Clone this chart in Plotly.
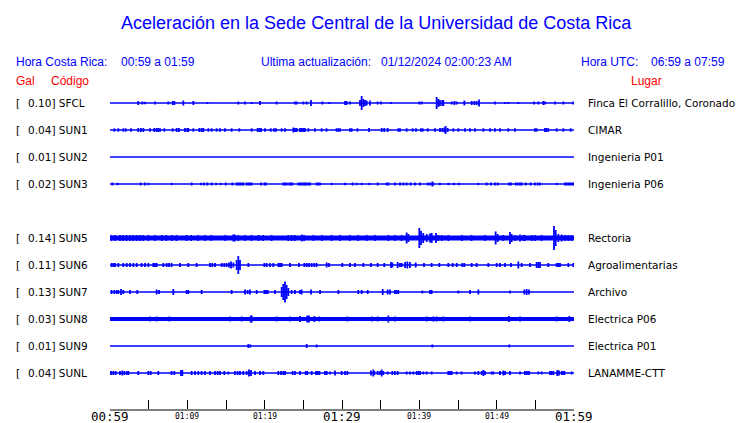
import plotly.graph_objects as go

# ---------------- data ----------------
stations = ["SFCL", "SUN1", "SUN2", "SUN3", "SUN5", "SUN6", "SUN7", "SUN8", "SUN9", "SUNL"]
rows = [0, 1, 2, 3, 5, 6, 7, 8, 9, 10]          # SUN4 slot (row 4) is empty
gal = ["0.10", "0.04", "0.01", "0.02", "0.14", "0.11", "0.13", "0.03", "0.01", "0.04"]
places = ["Finca El Corralillo, Coronado", "CIMAR", "Ingenieria P01", "Ingenieria P06",
          "Rectoria", "Agroalimentarias", "Archivo", "Electrica P06", "Electrica P01", "LANAMME-CTT"]
noise_level = [1.5, 1.5, 1.5, 1.5, 5, 1.5, 1.5, 4, 1.5, 1.5]   # background noise band

tick_minutes = list(range(0, 61, 5))
tick_labels = {0: "00:59", 10: "01:09", 20: "01:19", 30: "01:29", 40: "01:39", 50: "01:49", 60: "01:59"}
major_labels = [0, 30, 60]

# bursts: (minutes after 00:59, relative amplitude)
sfcl = [(3.66, 2), (4.18, 1.5), (4.53, 1.2), (5.82, 1.5), (7.54, 1.5), (8.1, 2), (8.32, 2), (9.48, 2.5),
        (10.78, 2), (12.59, 1), (16.59, 1.5), (17.46, 1.5), (18.32, 1), (19.4, 2), (21.55, 1.5),
        (23.92, 1.5), (24.14, 1.5), (25.0, 1.5), (25.43, 1.5), (25.99, 3), (27.46, 1.5), (28.36, 1),
        (30.39, 2), (30.6, 2), (31.03, 1.5), (32.33, 3), (32.54, 7), (32.76, 4), (32.97, 3), (33.19, 2.5),
        (33.62, 2.5), (34.61, 1.5), (35.04, 1.5), (36.34, 1), (40.0, 1.5), (40.3, 1.5), (42.24, 6),
        (42.46, 4), (42.67, 3), (42.97, 3), (43.1, 3), (44.18, 1.5), (44.53, 2), (44.83, 1.5), (45.82, 2.5),
        (46.77, 2), (47.11, 2), (47.41, 2), (47.72, 3.5), (49.78, 1.5), (51.08, 1), (51.51, 1), (52.8, 1),
        (54.83, 1.5), (55.39, 1.5), (56.03, 2), (56.25, 1.5), (57.54, 1.5), (58.62, 1.5), (59.91, 1.5)]

sun1 = [(0.56, 1.7), (1.08, 1.7), (1.72, 1.7), (2.03, 1.7), (2.72, 1.7), (3.66, 2), (4.0, 2), (4.31, 2),
        (5.17, 1.7), (5.73, 2), (6.03, 2), (6.25, 2), (6.47, 1.7), (7.03, 1.7), (8.1, 1.7), (8.62, 2),
        (8.92, 2), (9.7, 2), (10.0, 2), (10.13, 2), (10.78, 1.7), (11.55, 2), (11.85, 2), (12.07, 2),
        (12.72, 1.7), (13.15, 1.7), (13.79, 1.7), (14.22, 1.7), (14.87, 1.7), (15.73, 1.7), (16.72, 1.7),
        (18.32, 1.7), (19.09, 2), (19.31, 2), (19.53, 2), (20.04, 1.7), (20.78, 1.7), (21.21, 1.7),
        (21.47, 1.7), (22.2, 1.7), (22.63, 1.7), (23.71, 2.5), (23.92, 2), (24.14, 2), (24.57, 2),
        (24.78, 2), (25.0, 2), (25.2, 2), (25.65, 1.7), (26.5, 1.7), (27.37, 1.7), (28.0, 1.7),
        (29.3, 1.7), (29.5, 1.7), (29.74, 1.7), (31.03, 1.7), (31.25, 1.7), (32.0, 1.7), (33.5, 2),
        (35.13, 2), (35.47, 2), (35.9, 2), (37.28, 1.7), (37.5, 1.7), (38.36, 1.7), (39.14, 1.7),
        (39.57, 1.7), (40.2, 1.7), (40.43, 1.7), (41.08, 1.7), (42.03, 1.7), (42.67, 2), (42.97, 2),
        (43.23, 2.5), (43.4, 4), (43.66, 2), (44.4, 1.7), (45.04, 1.7), (45.9, 1.7), (46.55, 1.7),
        (47.2, 1.7), (48.28, 1.7), (49.14, 1.7), (49.78, 1.7), (50.43, 1.7), (51.5, 1.7), (52.37, 1.7),
        (54.96, 1.7), (55.17, 1.7), (56.25, 2), (56.47, 2), (56.68, 1.7), (57.76, 1.7), (58.62, 1.7),
        (59.57, 1.7)]

sun2 = []

sun3 = [(0.3, 1.5), (0.99, 1.2), (3.97, 1.5), (4.53, 1.5), (4.96, 1.2), (7.97, 1.2), (10.56, 1.5),
        (11.77, 1.2), (12.16, 1.5), (12.59, 1.5), (13.15, 1.5), (13.71, 1.2), (14.31, 1.2), (14.96, 1.5),
        (15.82, 1.5), (16.38, 1.5), (16.59, 1.5), (16.81, 1.5), (17.03, 1.5), (17.24, 1.5), (17.67, 1.5),
        (17.89, 1.5), (18.1, 1.5), (18.32, 1.5), (19.53, 1.5), (19.96, 1.5), (20.13, 1.5), (22.41, 1.5),
        (22.63, 1.5), (22.84, 1.5), (23.19, 1.5), (23.41, 1.5), (23.58, 1.5), (24.35, 1.5), (24.57, 1.5),
        (24.78, 1.5), (25.0, 1.5), (25.22, 1.5), (25.43, 1.5), (25.65, 1.5), (25.86, 1.5), (26.72, 1.5),
        (26.94, 1.5), (27.16, 1.5), (28.66, 1.2), (30.39, 1.2), (31.38, 1.5), (31.9, 1.2), (32.54, 1.2),
        (33.53, 1.2), (34.61, 1.5), (35.78, 1.5), (35.99, 1.5), (36.85, 1.5), (37.5, 1.5), (37.93, 1.5),
        (38.36, 1.5), (38.88, 1.5), (39.44, 1.5), (40.09, 1.5), (41.08, 1.5), (41.38, 1.5), (41.68, 2.5),
        (41.81, 1.5), (42.67, 1.2), (43.75, 1.2), (44.48, 1.2), (45.13, 1.2), (47.63, 1.2), (48.71, 1.5),
        (49.27, 1.5), (49.78, 1.5), (50.13, 1.5), (51.59, 1.5), (51.85, 1.5), (52.46, 1.5), (52.72, 1.5),
        (53.02, 1.5), (53.23, 1.5), (53.75, 1.5), (54.4, 1.5), (54.96, 1.5), (55.3, 1.5), (55.6, 1.5),
        (57.76, 1.2), (58.84, 1.5), (59.05, 1.5), (59.27, 1.5), (59.48, 1.5), (59.7, 1.5), (59.91, 1.5)]

sun5 = [(0.2, 3), (0.65, 3), (1.3, 3), (1.7, 3), (2.15, 3), (2.6, 3), (3.0, 3), (3.45, 3), (3.9, 3),
        (4.3, 3), (4.95, 3), (5.8, 3), (6.7, 3), (7.3, 3), (8.0, 3), (8.6, 3), (9.9, 3), (10.5, 3),
        (11.4, 3), (12.3, 3), (13.1, 3), (14.9, 3), (15.95, 3.5), (16.15, 3.5), (16.6, 3), (17.45, 3),
        (18.3, 3), (19.2, 3), (19.8, 3), (20.9, 3), (23.05, 3), (23.5, 3), (23.9, 3), (24.8, 3.5),
        (25.1, 3), (26.3, 3), (27.4, 3), (28.65, 3), (29.75, 3), (31.0, 3), (32.1, 3), (33.2, 3),
        (34.25, 3), (36.0, 3), (36.85, 3), (37.7, 3), (38.36, 5.5), (38.58, 4), (40.0, 10), (40.22, 7),
        (40.5, 5), (40.95, 4), (41.38, 4.5), (41.6, 5), (42.16, 5), (42.46, 3), (42.9, 3), (43.75, 3),
        (45.5, 3), (46.75, 3), (48.5, 3), (49.87, 6.5), (50.13, 4), (50.85, 3), (51.72, 6), (51.94, 4),
        (52.4, 3), (53.02, 3.5), (53.45, 3), (53.66, 3), (54.53, 3), (54.95, 3), (55.8, 3), (57.41, 12),
        (57.63, 8), (57.97, 4), (58.4, 3.5), (58.85, 3), (59.27, 3), (59.7, 3)]

sun6 = [(0.2, 2), (0.43, 2), (0.65, 2), (1.08, 2), (1.72, 2), (2.16, 2), (2.59, 2), (3.02, 2), (3.45, 2),
        (4.09, 2), (4.53, 2), (4.96, 2), (5.6, 2), (5.82, 2), (6.03, 2), (6.9, 2), (7.33, 2), (7.63, 2),
        (7.97, 2), (9.05, 2), (10.13, 2), (11.2, 2), (12.93, 2), (13.23, 2), (13.58, 2), (14.44, 2),
        (14.78, 2), (15.09, 2), (15.39, 2.5), (15.65, 3.5), (15.95, 2.5), (16.38, 5), (16.59, 9),
        (16.81, 5), (17.89, 2), (19.96, 2), (20.26, 2), (20.69, 2), (21.12, 2), (21.77, 2), (21.98, 2),
        (22.2, 2), (23.28, 2), (24.44, 2), (25.13, 2), (25.43, 2), (25.73, 2), (26.08, 2), (26.42, 2),
        (26.72, 2), (28.02, 2.5), (28.32, 2), (30.04, 2), (31.03, 2), (31.68, 2), (32.76, 2), (33.75, 2),
        (34.61, 2), (35.47, 2), (36.34, 3), (36.51, 2.5), (37.2, 3), (37.5, 2), (37.72, 2), (38.15, 3),
        (38.45, 3.5), (38.79, 3), (39.53, 2.5), (40.6, 2), (41.59, 2), (42.59, 2), (43.75, 2), (44.31, 2),
        (44.83, 2), (45.56, 2), (45.82, 2), (46.77, 2), (47.41, 2), (48.92, 2), (50.0, 2), (50.43, 2),
        (51.08, 2), (51.85, 2), (52.8, 3.5), (53.23, 2), (54.31, 2), (55.17, 3), (55.39, 3), (55.6, 3),
        (56.68, 2), (57.76, 2), (57.97, 2), (58.19, 2), (59.27, 2), (59.91, 2)]

sun7 = [(0.2, 2), (0.56, 2), (0.86, 2), (1.08, 2), (1.42, 3), (1.72, 2), (2.59, 2), (3.53, 2), (6.03, 2.5),
        (6.34, 2), (8.19, 3), (9.91, 2), (10.13, 2), (11.85, 2), (15.73, 2), (17.46, 2.5), (17.8, 2),
        (18.1, 2.5), (18.97, 2), (19.96, 2), (20.17, 2), (20.39, 2), (21.34, 2), (22.2, 5), (22.41, 8),
        (22.63, 10.5), (22.84, 7), (23.06, 4), (23.49, 2), (23.92, 2), (24.57, 2), (24.78, 2.5),
        (25.99, 2.5), (27.16, 2), (29.53, 2), (32.11, 2), (32.54, 2), (33.32, 2), (35.26, 3), (35.91, 2.5),
        (36.21, 2.5), (36.85, 2), (37.07, 2), (37.28, 2), (40.39, 1.5), (41.38, 2), (41.59, 2),
        (45.04, 1.5), (46.55, 2), (47.63, 2.5), (51.72, 1.5), (53.58, 2.5), (53.88, 3), (54.18, 2.5)]

sun8 = [(5.17, 2.5), (6.03, 2.5), (7.67, 2.5), (15.52, 2.5), (17.03, 2.5), (18.19, 3.5), (18.32, 3.5),
        (21.55, 2.5), (23.28, 2.5), (24.57, 3), (25.52, 3.5), (25.73, 3.5), (26.42, 3), (27.07, 2.5),
        (30.69, 2.5), (33.84, 2.5), (34.61, 2.5), (35.99, 3.5), (36.85, 2.5), (40.95, 2.5), (41.81, 2.5),
        (42.24, 2.5), (43.1, 2.5), (46.55, 2.5), (51.59, 3), (53.02, 2.5), (57.76, 2.5), (59.4, 3)]

sun9 = [(17.89, 2), (18.15, 1.5), (25.43, 2), (26.72, 1.5), (41.68, 1.5), (51.64, 1.5)]

sunl = [(0.13, 2), (0.43, 2), (0.73, 2), (1.29, 2), (1.59, 2.5), (1.85, 2), (2.16, 2), (2.37, 2),
        (3.66, 2), (4.96, 2), (5.26, 2), (6.25, 2), (7.97, 2), (8.32, 2), (9.18, 3), (9.35, 3),
        (10.56, 2), (10.99, 2), (11.42, 2), (11.85, 2), (12.28, 2), (12.93, 2), (13.58, 2), (13.92, 2),
        (14.22, 2), (14.78, 2), (15.3, 1.5), (16.16, 2), (16.51, 2), (16.81, 2), (17.24, 2), (17.67, 2),
        (17.97, 3.5), (18.23, 3), (18.75, 2), (19.4, 2), (19.83, 2), (21.77, 2), (22.11, 2), (22.41, 2),
        (22.63, 2), (23.62, 2), (23.92, 2), (24.57, 2), (25.3, 2), (25.52, 2), (26.08, 2), (26.64, 2),
        (26.85, 2), (27.07, 2), (27.8, 2), (28.02, 2), (28.45, 1.5), (29.09, 2.5), (29.96, 2), (30.39, 2),
        (30.69, 2), (33.75, 2.5), (34.05, 3.5), (34.18, 2), (34.61, 2), (34.91, 2), (35.13, 3.5),
        (35.34, 2), (35.9, 1.5), (36.51, 2), (36.85, 2), (37.2, 2), (38.36, 1.5), (38.79, 1.5),
        (39.22, 1.5), (39.66, 2), (39.87, 2), (40.09, 2), (40.52, 1.5), (40.95, 1.5), (41.59, 1.5),
        (43.75, 2), (43.97, 2), (44.18, 2), (44.83, 1.5), (45.47, 1.5), (47.2, 1.5), (47.63, 2),
        (48.06, 2), (48.28, 3), (48.49, 2), (49.35, 1.5), (49.57, 1.5), (50.43, 2), (50.86, 2.5),
        (51.08, 2), (51.72, 2), (53.02, 1.5), (53.66, 2), (53.92, 2), (54.18, 2), (55.39, 1.5),
        (55.82, 1.5), (56.9, 2), (57.11, 2), (57.33, 2), (57.84, 3), (58.06, 2.5), (58.41, 2),
        (58.62, 2), (58.75, 2), (59.7, 1.5)]

bursts = [sfcl, sun1, sun2, sun3, sun5, sun6, sun7, sun8, sun9, sunl]

# ---------------- figure ----------------
BLUE = "#0000ff"
ROW_PX = 27.0      # amplitude units -> row spacing

fig = go.Figure()
for st, r, lw, b in zip(stations, rows, noise_level, bursts):
    fig.add_trace(go.Scatter(x=[0, 60], y=[r, r], mode="lines",
                             line=dict(color=BLUE, width=lw), hoverinfo="skip", showlegend=False))
    xs, ys = [], []
    for t, a in b:
        xs += [t, t, None]
        ys += [r - a / ROW_PX, r + a / ROW_PX, None]
    if xs:
        fig.add_trace(go.Scatter(x=xs, y=ys, mode="lines",
                                 line=dict(color=BLUE, width=1.8), hoverinfo="skip", showlegend=False))

W, H = 740, 423
L, R, T, B = 110, 166, 90, 14
pw, ph = W - L - R, H - T - B


def px(xp):
    return (xp - L) / pw


def py(yp):
    return (H - B - yp) / ph


ann = []
hdr = dict(family="Liberation Sans, Arial, sans-serif", size=12, color=BLUE)
red = dict(family="Liberation Sans, Arial, sans-serif", size=12, color="#ff0000")
lab = dict(family="DejaVu Sans, sans-serif", size=10.5, color="black")


def add(text, x, y, font, xanchor="left", yref="paper"):
    ann.append(dict(text=text, x=x, y=y, xref="paper", yref=yref, xanchor=xanchor,
                    yanchor="middle", showarrow=False, font=font, borderpad=0))


add("Aceleración en la Sede Central de la Universidad de Costa Rica", px(376), py(23),
    dict(family="Liberation Sans, Arial, sans-serif", size=18, color=BLUE), xanchor="center")
add("Hora Costa Rica:", px(15), py(61.5), hdr)
add("00:59 a 01:59", px(120), py(61.5), hdr)
add("Ultima actualización:", px(260), py(61.5), hdr)
add("01/12/2024 02:00:23 AM", px(380), py(61.5), hdr)
add("Hora UTC:", px(580), py(61.5), hdr)
add("06:59 a 07:59", px(650), py(61.5), hdr)
add("Gal", px(15), py(81.5), red)
add("Código", px(50), py(81.5), red)
add("Lugar", px(630), py(81.5), red)

for st, r, g, pl in zip(stations, rows, gal, places):
    add("[", px(15), r, lab, yref="y")
    add(g + "] " + st, px(27), r, lab, yref="y")
    add(pl, px(587), r, lab, yref="y")

for m, t in tick_labels.items():
    big = m in major_labels
    ann.append(dict(text=t, x=m, y=py(416), xref="x", yref="paper", xanchor="center",
                    yanchor="middle", showarrow=False, borderpad=0,
                    font=dict(family="DejaVu Sans Mono, monospace", size=12.5 if big else 8,
                              color="black")))

AXIS_Y = 410  # pixel row of the time axis
fig.update_layout(
    width=W, height=H, margin=dict(l=L, r=R, t=T, b=B, pad=0),
    paper_bgcolor="white", plot_bgcolor="white", showlegend=False,
    annotations=ann,
    shapes=[dict(type="line", xref="x", yref="paper", x0=0, x1=60, y0=py(AXIS_Y), y1=py(AXIS_Y),
                 line=dict(color="black", width=1.2), layer="above")],
    xaxis=dict(range=[0, 60], showgrid=False, zeroline=False, showline=False,
               ticks="inside", ticklen=9, tickcolor="black", tickwidth=1,
               tickvals=tick_minutes, showticklabels=False, fixedrange=True),
    yaxis=dict(range=[(H - B - T) / ROW_PX - 13 / ROW_PX, -13 / ROW_PX], showgrid=False,
               zeroline=False, showline=False, showticklabels=False, ticks="", fixedrange=True),
)

fig.write_html("out.html", config={"displayModeBar": False},
               post_script="document.body.style.margin='0';document.body.style.padding='0';")
